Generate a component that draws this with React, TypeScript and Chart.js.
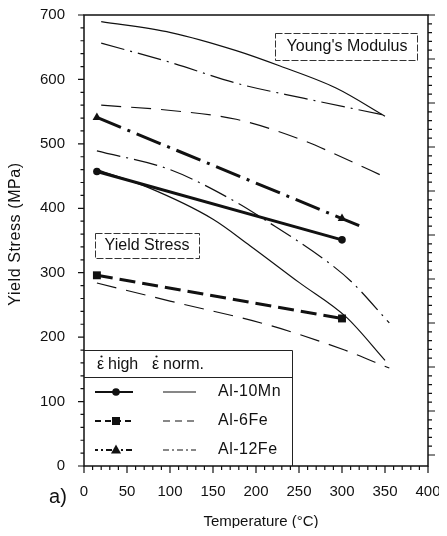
import React, { useEffect, useRef } from "react";
import { Chart, registerables } from "chart.js";

Chart.register(...registerables);

// Yield stress (MPa) at high strain rate, with markers
const highT = [15, 300];
const mnHigh = [457, 351];
const fe6High = [296, 229];
const fe12HighT = [15, 300, 320];
const fe12High = [541, 384, 373];

// Yield stress (MPa) at normal strain rate
const mnNormT = [15, 75, 150, 193, 250, 305, 350];
const mnNorm = [460, 432, 383, 342, 285, 231, 164];
const fe6NormT = [15, 100, 214, 303, 355];
const fe6Norm = [284, 256, 219, 180, 152];
const fe12NormT = [15, 100, 179, 208, 280, 311, 355];
const fe12Norm = [489, 460, 408, 384, 320, 286, 222];

// Young's modulus (GPa), right axis
const ymMnT = [20, 101, 177, 228, 293, 350];
const ymMn = [98.5, 96.0, 91.9, 88.4, 83.4, 77.0];
const ymFe12T = [20, 101, 177, 255, 348];
const ymFe12 = [93.6, 89.2, 84.5, 81.1, 77.3];
const ymFe6T = [20, 101, 177, 255, 293, 354];
const ymFe6 = [79.5, 78.3, 76.3, 71.5, 68.3, 62.8];

// Axis ticks
const xTicks = [0, 50, 100, 150, 200, 250, 300, 350, 400];
const yTicks = [0, 100, 200, 300, 400, 500, 600, 700];
const y2Ticks = [0, 10, 20, 30, 40, 50, 60, 70, 80, 90, 100];
const xMinorStep = 10;
const yMinorStep = 20;
const y2MinorStep = 2;

const alloys = ["Al-10Mn", "Al-6Fe", "Al-12Fe"];

const FONT = "'Liberation Sans', Arial, Helvetica, sans-serif";
const INK = "#111";

const DASH_THICK = [16, 7];
const DASH_DOT_THICK = [26, 7, 3, 7];
const DASH_THIN = [20, 10];
const DASH_DOT_THIN = [24, 6, 2, 6];

const W = 439;
const H = 520;

const pts = (xs: number[], ys: number[]) => xs.map((t, i) => ({ x: t, y: ys[i] }));

function drawMarker(ctx: CanvasRenderingContext2D, kind: string, x: number, y: number) {
  ctx.save();
  ctx.setLineDash([]);
  ctx.fillStyle = INK;
  ctx.beginPath();
  if (kind === "circle") {
    ctx.arc(x, y, 3.8, 0, Math.PI * 2);
  } else if (kind === "rect") {
    ctx.rect(x - 4, y - 4, 8, 8);
  } else {
    ctx.moveTo(x, y - 5.5);
    ctx.lineTo(x + 5, y + 3.5);
    ctx.lineTo(x - 5, y + 3.5);
    ctx.closePath();
  }
  ctx.fill();
  ctx.restore();
}

function epsDot(ctx: CanvasRenderingContext2D, x: number, baseline: number) {
  ctx.fillText("\u03B5", x, baseline);
  ctx.beginPath();
  ctx.arc(x + 4.5, baseline - 12.5, 1.1, 0, Math.PI * 2);
  ctx.fill();
}

const decorPlugin = {
  id: "decor",
  afterDraw(chart: any) {
    const { ctx, chartArea: a, scales } = chart;
    const sx = scales.x;
    const sy = scales.y;
    const sy2 = scales.y2;
    ctx.save();

    // frame
    ctx.strokeStyle = INK;
    ctx.lineWidth = 1.5;
    ctx.setLineDash([]);
    ctx.strokeRect(a.left, a.top, a.right - a.left, a.bottom - a.top);

    // outward ticks
    ctx.lineWidth = 1.2;
    ctx.beginPath();
    for (let v = sx.min; v <= sx.max; v += xMinorStep) {
      const p = sx.getPixelForValue(v);
      const len = xTicks.includes(v) ? 7 : 4;
      ctx.moveTo(p, a.bottom);
      ctx.lineTo(p, a.bottom + len);
    }
    for (let v = sy.min; v <= sy.max; v += yMinorStep) {
      const p = sy.getPixelForValue(v);
      const len = yTicks.includes(v) ? 6 : 3.5;
      ctx.moveTo(a.left, p);
      ctx.lineTo(a.left - len, p);
    }
    for (let v = 0; v <= 100; v += y2MinorStep) {
      const p = sy2.getPixelForValue(v);
      const len = y2Ticks.includes(v) ? 7 : 4;
      ctx.moveTo(a.right, p);
      ctx.lineTo(a.right + len, p);
    }
    ctx.stroke();

    ctx.fillStyle = INK;

    // axis titles
    ctx.font = `15px ${FONT}`;
    ctx.textAlign = "center";
    ctx.textBaseline = "middle";
    ctx.fillText("Temperature (\u00B0C)", (a.left + a.right) / 2 + 5, 514);

    ctx.save();
    ctx.translate(8, 226);
    ctx.rotate(-Math.PI / 2);
    ctx.font = `16px ${FONT}`;
    (ctx as any).letterSpacing = "0.6px";
    ctx.fillText("Yield Stress (MPa)", 0, 0);
    ctx.restore();

    ctx.font = `20px ${FONT}`;
    ctx.textAlign = "center";
    ctx.fillText("a)", 50, 489);

    // labelled boxes
    const box = (x0: number, y0: number, x1: number, y1: number) => {
      ctx.save();
      ctx.fillStyle = "#fff";
      ctx.fillRect(x0, y0, x1 - x0, y1 - y0);
      ctx.strokeStyle = "#333";
      ctx.lineWidth = 1;
      ctx.setLineDash([7, 2]);
      ctx.strokeRect(x0 + 0.5, y0 + 0.5, x1 - x0, y1 - y0);
      ctx.restore();
    };
    box(267, 25, 409, 52);
    ctx.font = `16px ${FONT}`;
    ctx.textAlign = "center";
    ctx.textBaseline = "middle";
    ctx.fillText("Young's Modulus", 339, 39);

    box(87, 225, 191, 250);
    ctx.fillText("Yield Stress", 139, 238);

    // legend panel
    const lx0 = a.left;
    const lx1 = 284;
    const ly0 = 342;
    ctx.save();
    ctx.fillStyle = "#fff";
    ctx.fillRect(lx0 + 1, ly0, lx1 - lx0, a.bottom - ly0 - 1);
    ctx.strokeStyle = "#222";
    ctx.lineWidth = 1;
    ctx.setLineDash([]);
    ctx.beginPath();
    ctx.moveTo(lx0, ly0 + 0.5);
    ctx.lineTo(lx1 + 0.5, ly0 + 0.5);
    ctx.lineTo(lx1 + 0.5, a.bottom);
    ctx.moveTo(lx0, 369.5);
    ctx.lineTo(lx1, 369.5);
    ctx.stroke();
    ctx.restore();

    ctx.font = `16px ${FONT}`;
    ctx.textAlign = "left";
    ctx.textBaseline = "alphabetic";
    epsDot(ctx, 89, 361);
    ctx.fillText("high", 100, 361);
    epsDot(ctx, 144, 361);
    ctx.fillText("norm.", 155, 361);

    const rows = [384, 413, 442];
    const markers = ["circle", "rect", "triangle"];
    const highDash = [[], [6, 4], [3, 3, 2, 3, 6, 3]];
    const normDash = [[], [7, 5], [6, 3, 2, 3]];
    ctx.textBaseline = "middle";
    (ctx as any).letterSpacing = "0.5px";
    rows.forEach((ry, i) => {
      ctx.save();
      ctx.strokeStyle = INK;
      ctx.lineWidth = 2;
      ctx.setLineDash(highDash[i]);
      ctx.beginPath();
      ctx.moveTo(87, ry);
      ctx.lineTo(125, ry);
      ctx.stroke();
      drawMarker(ctx, markers[i], 108, ry);
      ctx.lineWidth = 1.2;
      ctx.setLineDash(normDash[i]);
      ctx.beginPath();
      ctx.moveTo(155, ry);
      ctx.lineTo(188, ry);
      ctx.stroke();
      ctx.restore();
      ctx.fillText(alloys[i], 210, ry);
    });
    (ctx as any).letterSpacing = "0px";

    ctx.restore();
  },
};

export default function App() {
  const ref = useRef<HTMLCanvasElement>(null);

  useEffect(() => {
    const thick = { borderColor: INK, backgroundColor: INK, borderWidth: 3, tension: 0, pointBorderWidth: 0 };
    const thin = {
      borderColor: INK,
      borderWidth: 1.2,
      pointRadius: 0,
      cubicInterpolationMode: "monotone" as const,
    };
    const chart = new Chart(ref.current!, {
      type: "line",
      data: {
        datasets: [
          { ...thick, label: `${alloys[0]} high`, data: pts(highT, mnHigh), pointStyle: "circle", pointRadius: 3.8 },
          { ...thick, label: `${alloys[1]} high`, data: pts(highT, fe6High), borderDash: DASH_THICK, pointStyle: "rect", pointRadius: 5.6 },
          { ...thick, label: `${alloys[2]} high`, data: pts(fe12HighT, fe12High), borderDash: DASH_DOT_THICK, pointStyle: "triangle", pointRadius: [5, 5, 0] },
          { ...thin, label: `${alloys[0]} norm`, data: pts(mnNormT, mnNorm) },
          { ...thin, label: `${alloys[1]} norm`, data: pts(fe6NormT, fe6Norm), borderDash: DASH_THIN },
          { ...thin, label: `${alloys[2]} norm`, data: pts(fe12NormT, fe12Norm), borderDash: DASH_DOT_THIN },
          { ...thin, label: `${alloys[0]} E`, data: pts(ymMnT, ymMn), yAxisID: "y2" },
          { ...thin, label: `${alloys[1]} E`, data: pts(ymFe6T, ymFe6), yAxisID: "y2", borderDash: DASH_THIN },
          { ...thin, label: `${alloys[2]} E`, data: pts(ymFe12T, ymFe12), yAxisID: "y2", borderDash: DASH_DOT_THIN },
        ],
      },
      options: {
        animation: false,
        responsive: false,
        layout: { padding: { top: 7, left: 0, right: 0, bottom: 0 } },
        plugins: { legend: { display: false }, tooltip: { enabled: false } },
        scales: {
          x: {
            type: "linear",
            min: 0,
            max: 400,
            afterBuildTicks: (s: any) => {
              s.ticks = xTicks.map((v) => ({ value: v }));
            },
            ticks: { font: { family: FONT, size: 15 }, color: INK, padding: 17, maxRotation: 0, autoSkip: false },
            grid: { display: false, drawTicks: false },
            border: { display: false },
            afterFit: (s: any) => {
              s.height = 62;
              s.paddingLeft = 0;
              s.paddingRight = 0;
            },
          },
          y: {
            type: "linear",
            min: 0,
            max: 700,
            afterBuildTicks: (s: any) => {
              s.ticks = yTicks.map((v) => ({ value: v }));
            },
            ticks: { font: { family: FONT, size: 15 }, color: INK, padding: 19 },
            grid: { display: false, drawTicks: false },
            border: { display: false },
            afterFit: (s: any) => {
              s.width = 76;
              s.paddingTop = 0;
              s.paddingBottom = 0;
            },
          },
          y2: {
            type: "linear",
            position: "right",
            min: -2.5,
            max: 100,
            afterBuildTicks: (s: any) => {
              s.ticks = y2Ticks.map((v) => ({ value: v }));
            },
            ticks: { font: { family: FONT, size: 15 }, color: INK, padding: 13 },
            grid: { display: false, drawTicks: false },
            border: { display: false },
            afterFit: (s: any) => {
              s.width = 19;
              s.paddingTop = 0;
              s.paddingBottom = 0;
            },
          },
        },
      },
      plugins: [decorPlugin],
    });
    return () => chart.destroy();
  }, []);

  return (
    <div style={{ width: W, height: H, overflow: "hidden" }}>
      <canvas ref={ref} width={W} height={H} style={{ display: "block", width: W, height: H }} />
    </div>
  );
}
